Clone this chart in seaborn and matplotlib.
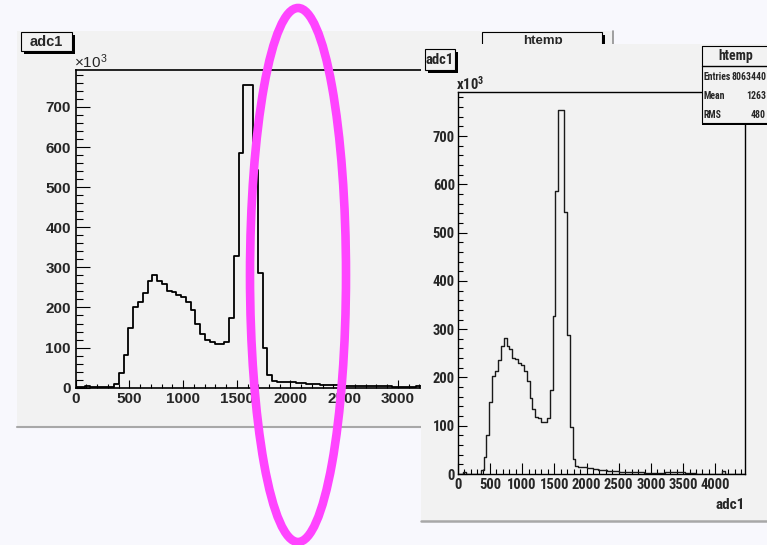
import numpy as np
import pandas as pd
import matplotlib
matplotlib.use("Agg")
import matplotlib.pyplot as plt
import matplotlib.transforms as mtransforms
from matplotlib.patches import Rectangle, Ellipse
from matplotlib.lines import Line2D
from matplotlib.ticker import MultipleLocator
from matplotlib import font_manager
from matplotlib.font_manager import FontProperties
import seaborn as sns

# ---- data: adc1 spectrum, 100 bins over [0, 4460], counts in thousands ----
x_low, x_high, n_bins = 0.0, 4460.0, 100
adc1_counts_k = [
    1.0, 1.0, 4.0, 0.5, 0.5, 0.5, 0.5, 0.5, 8.0, 36.0,
    81.0, 150.0, 202.0, 213.0, 237.0, 265.0, 281.0, 266.0, 258.0, 240.0,
    238.0, 230.0, 226.0, 214.0, 193.0, 158.0, 135.0, 119.0, 115.0, 108.0,
    108.0, 115.0, 173.0, 328.0, 586.0, 755.0, 755.0, 543.0, 287.0, 98.0,
    32.0, 17.0, 15.0, 14.0, 14.0, 13.0, 12.0, 11.0, 10.0, 9.0,
    8.0, 7.5, 7.0, 6.5, 6.0, 5.5, 5.0, 4.8, 4.5, 4.2,
    4.0, 3.8, 3.6, 3.4, 3.2, 3.0, 2.9, 2.8, 2.8, 2.8,
    2.8, 3.0, 3.3, 3.6, 3.8, 4.0, 4.0, 3.8, 3.4, 3.0,
    2.5, 2.0, 1.5, 1.0, 0.8, 0.5, 0.5, 0.5, 0.5, 0.5,
    0.5, 0.5, 6.0, 0.5, 0.5, 0.5, 0.5, 0.5, 0.5, 0.5,
]
x_ticks = [0, 500, 1000, 1500, 2000, 2500, 3000, 3500, 4000]
y_ticks = [0, 100, 200, 300, 400, 500, 600, 700]
y_top_k = 792
hist_name = "htemp"
var_name = "adc1"
stat_labels = ["Entries", "Mean", "RMS"]
stat_values = ["8063440", "1263", "480"]

edges = np.linspace(x_low, x_high, n_bins + 1)
centers = 0.5 * (edges[:-1] + edges[1:])
df = pd.DataFrame({var_name: centers, "counts": adc1_counts_k})

# ---- style ----
sns.set_style("ticks")
plt.rcParams["font.family"] = ["Liberation Sans", "DejaVu Sans"]
plt.rcParams["mathtext.fontset"] = "custom"
plt.rcParams["mathtext.rm"] = "Liberation Sans"


def find_condensed_bold():
    """Return the file of a condensed bold sans face, if one is installed."""
    prefs = ["liberation sans narrow", "roboto condensed", "dejavu sans",
             "noto sans", "open sans", "roboto"]
    found = []
    for f in font_manager.fontManager.ttflist:
        fn = f.fname.lower()
        name = f.name.lower()
        cond = ("condensed" in str(f.stretch).lower() or "narrow" in name
                or "condensed" in name or "condensed" in fn or "narrow" in fn)
        if not cond:
            continue
        if any(k in fn for k in ("semi", "extra", "ultra", "italic", "oblique")):
            continue
        w = f.weight
        bold = (isinstance(w, (int, float)) and w >= 600) or str(w).lower() == "bold"
        if not bold or "semibold" in fn or "black" in fn:
            continue
        rank = next((i for i, p in enumerate(prefs) if name.startswith(p)), len(prefs))
        found.append((rank, f.fname))
    found.sort()
    return found[0][1] if found else None


cond_file = find_condensed_bold()


def narrow_fp(size):
    if cond_file:
        return FontProperties(fname=cond_file, size=size)
    return FontProperties(family="Liberation Sans", weight="bold", size=size * 0.85)


W, H = 767, 545
fig = plt.figure(figsize=(W / 100, H / 100), dpi=100)
fig.patch.set_facecolor("#f8f8fd")
pix = mtransforms.Affine2D().scale(1 / W, -1 / H).translate(0, 1) + fig.transFigure


def frac(x0, y0, x1, y1):
    return [x0 / W, 1 - y1 / H, (x1 - x0) / W, (y1 - y0) / H]


def rect(x, y, w, h, z, fc="#f2f2f2", ec="none", lw=0.0):
    fig.add_artist(Rectangle((x, y), w, h, transform=pix, fc=fc, ec=ec,
                             lw=lw, zorder=z))


def hline(x0, x1, y, z, color="black", lw=1.0):
    fig.add_artist(Line2D([x0, x1], [y, y], transform=pix, color=color,
                          lw=lw, zorder=z))


def vline(x, y0, y1, z, color="black", lw=1.0):
    fig.add_artist(Line2D([x, x], [y0, y1], transform=pix, color=color,
                          lw=lw, zorder=z))


def label(x, y, s, z, **kw):
    fig.text(x, y, s, transform=pix, zorder=z, **kw)


def shadow_box(x, y, w, h, z, shade=2.5):
    rect(x + shade, y + shade, w, h, z, fc="black")
    rect(x, y, w, h, z + 0.01, fc="#f2f2f2", ec="black", lw=0.8)


def style_axes(ax, lx, ly, fp, pad_x, pad_y, spine_lw):
    ax.set_facecolor("#f2f2f2")
    ax.set_xlim(x_low, x_high)
    ax.set_ylim(0, y_top_k)
    ax.set_xticks(x_ticks)
    ax.set_yticks(y_ticks)
    ax.xaxis.set_minor_locator(MultipleLocator(100))
    ax.yaxis.set_minor_locator(MultipleLocator(20))
    ax.set_xticklabels([str(v) for v in x_ticks])
    ax.set_yticklabels([str(v) for v in y_ticks])
    ax.set_xlabel("")
    ax.set_ylabel("")
    ax.tick_params(which="both", direction="in", top=False, right=False,
                   width=0.8, color="black")
    ax.tick_params(axis="x", which="major", length=lx, pad=pad_x)
    ax.tick_params(axis="x", which="minor", length=lx / 2)
    ax.tick_params(axis="y", which="major", length=ly, pad=pad_y)
    ax.tick_params(axis="y", which="minor", length=ly / 2)
    for t in ax.get_xticklabels() + ax.get_yticklabels():
        t.set_fontproperties(fp)
    for s in ax.spines.values():
        s.set_visible(True)
        s.set_linewidth(spine_lw)
        s.set_color("black")


def draw_hist(ax, color, lw):
    sns.histplot(data=df, x=var_name, weights="counts", bins=n_bins,
                 binrange=(x_low, x_high), element="step", fill=False,
                 color=color, linewidth=lw, ax=ax)


# ---- left canvas ----
rect(17, 31, 596, 396, 0.1)
hline(17, 613, 426.5, 0.2, color="#a8a8a8", lw=1.5)
vline(612.5, 31, 427, 0.2, color="#909090", lw=1.2)

axL = fig.add_axes(frac(75.7, 70, 554.7, 387.7))
axL.set_zorder(1)
draw_hist(axL, "black", 1.3)
style_axes(axL, 5.8, 10.0,
           FontProperties(family="Liberation Sans", weight="bold", size=11),
           3.0, 3.4, 1.2)

shadow_box(21, 32, 51, 19, 1.5)
label(46.5, 42, var_name, 1.6, ha="center", va="center", fontsize=10.5,
      fontweight="bold")
label(74, 68, r"$\mathregular{\times10^3}$", 1.6, ha="left", va="baseline",
      fontsize=11)
shadow_box(482, 32, 120, 60, 1.5)
label(543, 35, hist_name, 1.6, ha="center", va="top", fontsize=9.5,
      fontweight="bold")

# ---- right canvas ----
rect(421, 44, 400, 478, 2.0)
hline(421, 767, 521, 2.1, color="#a8a8a8", lw=1.8)

axR = fig.add_axes(frac(457.7, 91.7, 745, 474))
axR.set_zorder(3)
draw_hist(axR, "#1a1a1a", 1.0)
style_axes(axR, 7.9, 6.5, narrow_fp(10.5), 2.9, 2.0, 1.0)

shadow_box(425, 49, 30, 21, 4)
label(440, 59.5, var_name, 4.1, ha="center", va="center",
      fontproperties=narrow_fp(10.5))
label(456, 90, r"$\mathregular{x10^3}$", 4.1, ha="left", va="baseline",
      fontproperties=narrow_fp(10.5))
label(745, 505, var_name, 4.1, ha="right", va="center",
      fontproperties=narrow_fp(11))

# statistics box
rect(702, 46, 80, 79, 4.0, fc="black")
rect(702, 46, 80, 77, 4.01, fc="#f2f2f2", ec="black", lw=0.8)
hline(702, 767, 65.5, 4.02, lw=1.0)
label(736, 56, hist_name, 4.1, ha="center", va="center",
      fontproperties=narrow_fp(10))
for lab, val, yy in zip(stat_labels, stat_values, [77, 96, 115]):
    label(704, yy, lab, 4.1, ha="left", va="center",
          fontproperties=narrow_fp(7))
    label(766, yy, val, 4.1, ha="right", va="center",
          fontproperties=narrow_fp(7))

# ---- highlight ellipse over the tail region ----
fig.add_artist(Ellipse((298, 275), 96, 534, transform=pix, fill=False,
                       ec="#ff44ff", lw=6.2, zorder=10))

fig.savefig("out.png", dpi=100, facecolor=fig.get_facecolor())
